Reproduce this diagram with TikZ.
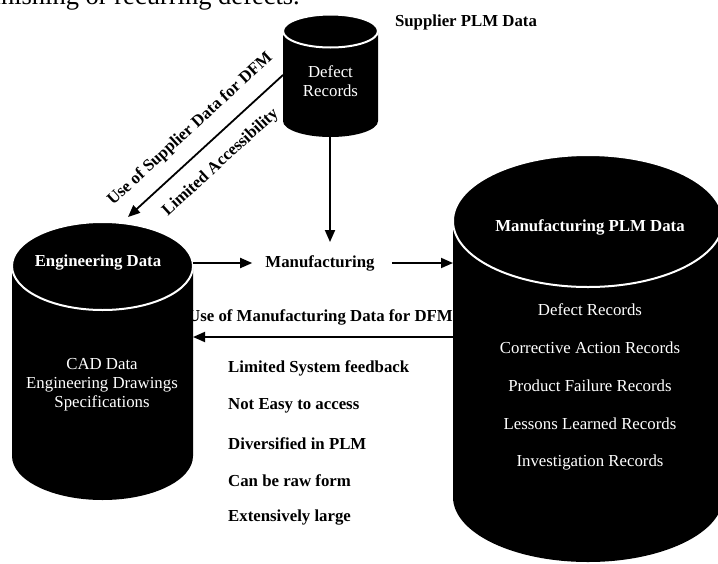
\documentclass[tikz,border=0pt]{standalone}
\usepackage{fontspec}
\setmainfont{Liberation Serif}
\usetikzlibrary{arrows.meta}
\begin{document}
\begin{tikzpicture}[x=1pt,y=-1pt,
  lbl/.style={font=\fontsize{16.8}{20}\selectfont\bfseries, inner sep=2pt},
  wtxt/.style={text=white, font=\fontsize{16.8}{20}\selectfont, inner sep=1pt},
  wbold/.style={text=white, font=\fontsize{16.8}{20}\selectfont\bfseries, inner sep=1pt},
  conn/.style={line width=1.8pt, -{Triangle[length=12pt,width=10pt]}},
  cyltop/.style={fill=black, draw=white, line width=2pt}]
\useasboundingbox (0,0) rectangle (718,563);
\begin{scope}
\clip (0,0) rectangle (718,563);
% fragment of page text
\node[anchor=base east, font=\fontsize{26.5}{30}\selectfont, inner sep=0pt] (frag) at (300,4) {diminishing or recurring defects.};
% label under cylinders
\node[lbl] (usemfg) at (320.5,317) {Use of Manufacturing Data for DFM};
% Supplier cylinder
\fill (283,31) -- (283,121) arc[start angle=180, end angle=360, x radius=47.5pt, y radius=16pt] -- (378,31) -- cycle;
\filldraw[cyltop] (330.5,31) ellipse [x radius=47.5pt, y radius=16.5pt];
% Engineering cylinder
\fill (12,266) -- (12,456) arc[start angle=180, end angle=360, x radius=90.5pt, y radius=44pt] -- (193,266) -- cycle;
\filldraw[cyltop] (102.5,266) ellipse [x radius=90.5pt, y radius=44pt];
% Manufacturing cylinder
\fill (453,221) -- (453,497) arc[start angle=180, end angle=360, x radius=135pt, y radius=65pt] -- (723,221) -- cycle;
\filldraw[cyltop] (588,221) ellipse [x radius=135pt, y radius=66pt];
\end{scope}
% texts
\node[lbl] (suplbl) at (466,22) {Supplier PLM Data};
\node[wtxt, align=center] (defrec) at (330.5,81) {Defect\\[-1.5pt]Records};
\node[wbold] (englbl) at (98,263) {Engineering Data};
\node[wtxt, align=center] (engtxt) at (102,384.5) {CAD Data\\[-1pt]Engineering Drawings\\[-1pt]Specifications};
\node[wbold] (mfglbl) at (590,227) {Manufacturing PLM Data};
\node[wtxt] (m1) at (590,310) {Defect Records};
\node[wtxt] (m2) at (590,348) {Corrective Action Records};
\node[wtxt] (m3) at (590,386) {Product Failure Records};
\node[wtxt] (m4) at (590,424) {Lessons Learned Records};
\node[wtxt] (m5) at (590,462) {Investigation Records};
\node[lbl] (mf) at (320,263) {Manufacturing};
\node[lbl, anchor=west] (b1) at (226,368) {Limited System feedback};
\node[lbl, anchor=west] (b2) at (226,406) {Not Easy to access};
\node[lbl, anchor=west] (b3) at (226,444) {Diversified in PLM};
\node[lbl, anchor=west] (b4) at (226,481) {Can be raw form};
\node[lbl, anchor=west] (b5) at (226,518) {Extensively large};
% connector end points on cylinders
\coordinate (supL) at (283,75);
\coordinate (supB) at (330,137);
\coordinate (engT) at (128,217);
\coordinate (engR) at (193,263);
\coordinate (engR2) at (193,337);
\coordinate (mfgL) at (453,263);
\coordinate (mfgL2) at (453,337);
% connectors
\draw[conn] (supL) -- (engT)
  node[lbl, midway, sloped, above=12pt] (useSup) {Use of Supplier Data for DFM}
  node[lbl, midway, sloped, below=12pt] (limAcc) {Limited Accessibility};
\draw[conn, shorten >=11pt] (supB) -- (supB |- mf.north);
\draw[conn, shorten >=11pt] (engR) -- (mf.west);
\draw[conn, shorten <=15pt] (mf.east) -- (mfgL);
\draw[conn] (mfgL2) -- (engR2);
\end{tikzpicture}
\end{document}
